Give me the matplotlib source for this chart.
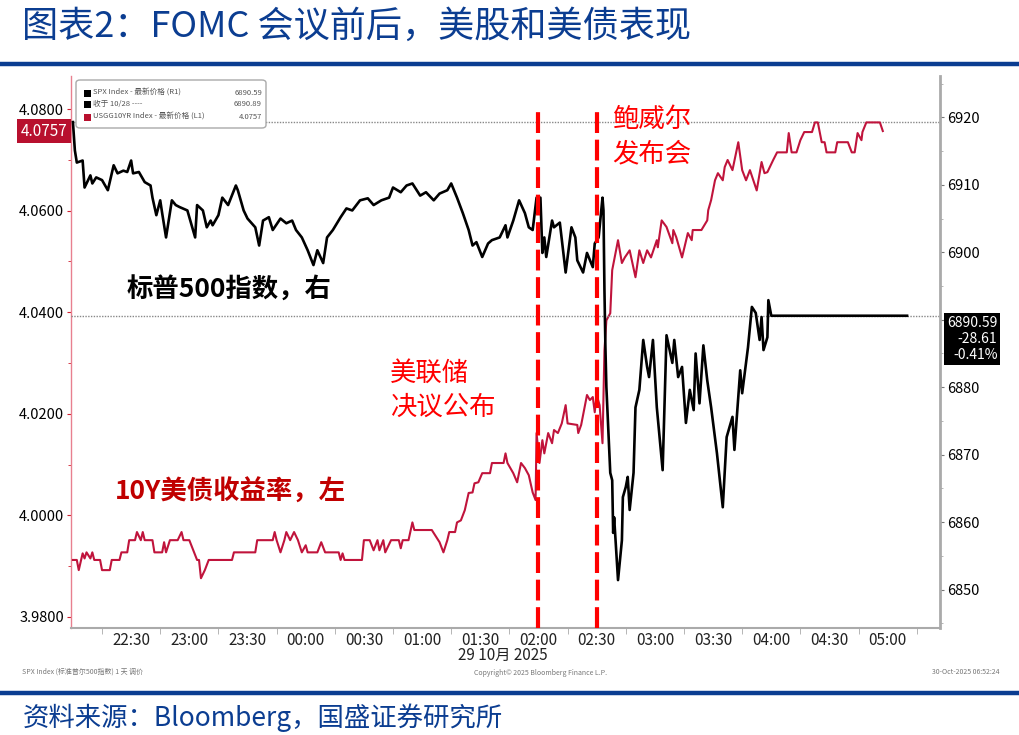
import matplotlib.pyplot as plt
import matplotlib.transforms as mtransforms
from matplotlib.patches import FancyBboxPatch, Rectangle
from matplotlib.lines import Line2D
from matplotlib.ticker import MultipleLocator, FixedLocator

plt.rcParams['font.family'] = ['Noto Sans CJK SC', 'DejaVu Sans']

# minutes after 22:00 (Beijing time, 28 -> 29 Oct 2025)
spx_min = [0, 1, 2, 5, 6, 9, 10, 12, 15, 18, 21, 23, 26, 28, 30, 31, 34, 37, 40, 41,
           43, 45, 46, 48, 51, 53, 55, 59, 63, 64, 67, 69, 71, 72, 75, 77, 80, 84, 85, 88,
           90, 94, 96, 98, 101, 103, 107, 110, 113, 115, 118, 121, 124, 126, 129, 131, 134, 138, 141, 144,
           148, 152, 155, 159, 163, 165, 169, 172, 175, 179, 182, 186, 189, 193, 195, 198, 201, 204, 206, 208,
           211, 214, 216, 220, 223, 224, 227, 230, 233, 235, 237, 239, 241, 242, 243, 244, 247, 248, 251, 254,
           257, 259, 260, 263, 265, 268, 269, 271, 273, 273.5, 274, 274.5, 275, 277, 278, 278.5, 279, 281, 283, 283.5,
           285, 286, 287, 289, 290, 292, 294, 296, 297, 299, 301, 304, 306, 309, 310, 312, 314, 316, 318, 320,
           321, 323, 325, 327, 329, 332, 335, 337, 340, 341, 344, 345, 348, 350, 352, 354, 355, 356, 358, 358.5,
           360, 430]
spx_val = [6919.3, 6915.1, 6913.3, 6913.6, 6909.6, 6911.4, 6910.2, 6911.1, 6910.7, 6909.2,
           6912.9, 6911.7, 6912.1, 6911.9, 6913.6, 6911.7, 6911.9, 6910.4, 6909.9, 6908.1,
           6905.5, 6907.7, 6905.8, 6902.2, 6907.7, 6907.0, 6906.7, 6906.2, 6902.2, 6907.0,
           6906.2, 6903.7, 6904.7, 6904.0, 6905.5, 6908.1, 6907.0, 6909.9, 6909.2, 6906.2,
           6905.0, 6903.7, 6901.0, 6904.7, 6905.2, 6903.3, 6905.0, 6904.3, 6904.7, 6903.3,
           6902.2, 6900.3, 6898.1, 6900.3, 6898.4, 6902.2, 6903.3, 6905.2, 6906.5, 6906.2,
           6907.7, 6908.0, 6907.0, 6907.7, 6908.1, 6909.6, 6908.9, 6909.9, 6910.2, 6908.4,
           6908.9, 6907.7, 6908.7, 6909.2, 6910.2, 6908.1, 6905.8, 6903.3, 6901.0, 6901.5,
           6899.3, 6901.3, 6901.8, 6902.2, 6904.0, 6902.2, 6904.7, 6907.7, 6905.8, 6903.7,
           6903.3, 6908.1, 6908.1, 6899.9, 6902.2, 6899.3, 6904.7, 6903.7, 6904.4, 6897.0,
           6903.7, 6902.2, 6898.8, 6897.0, 6899.9, 6897.8, 6901.3, 6902.2, 6908.1, 6906.2,
           6894.4, 6885.9, 6880.0, 6867.3, 6866.2, 6858.4, 6860.7, 6851.4, 6857.3, 6863.7,
           6865.2, 6866.7, 6861.8, 6867.3, 6877.0, 6879.6, 6887.0, 6883.0, 6881.5, 6887.0,
           6877.0, 6867.7, 6887.7, 6883.6, 6887.0, 6881.5, 6883.0, 6874.7, 6879.6, 6876.6,
           6885.0, 6877.6, 6886.2, 6881.0, 6877.0, 6870.2, 6862.2, 6872.6, 6875.6, 6870.7,
           6882.5, 6879.1, 6885.9, 6891.9, 6891.0, 6887.0, 6890.4, 6885.5, 6887.4, 6892.9,
           6890.59, 6890.59]

ust_min = [0, 2, 3, 5, 6, 7, 9, 10, 11, 14, 15, 19, 20, 24, 25, 28, 29, 32, 33, 35,
           36, 37, 41, 42, 46, 47, 48, 50, 54, 56, 57, 60, 64, 65, 66, 68, 70, 82, 83, 94,
           95, 103, 104, 105, 107, 109, 110, 112, 114, 116, 118, 120, 121, 126, 128, 130, 137, 138, 139, 140,
           149, 150, 153, 155, 157, 158, 160, 161, 164, 168, 169, 170, 173, 175, 176, 185, 189, 191, 193, 194,
           197, 198, 200, 202, 204, 206, 207, 209, 211, 215, 216, 222, 223, 224, 227, 229, 231, 233, 235, 237,
           238.5, 239, 240.5, 242, 243, 245, 247, 248, 250, 252, 254, 255, 260, 260.5, 262, 265, 266.5, 268, 269, 270,
           271.5, 273, 274, 275, 277, 278, 281, 283, 284.5, 287, 290, 292, 294, 296, 298, 301, 301.5, 303.5, 306, 309,
           309.5, 311, 314, 317, 319, 319.5, 324, 327, 327.5, 329, 331, 332.5, 335, 336, 337.5, 340, 343, 345, 347, 349,
           352.5, 355, 356.5, 358, 361, 363, 368, 369, 370.5, 373, 375, 377, 381, 382.5, 384, 386, 387.5, 388.5, 393, 394,
           399.5, 401.5, 403, 404.5, 406.5, 407, 409, 416, 417.5]
ust_val = [3.9912, 3.9912, 3.9892, 3.9925, 3.9915, 3.9927, 3.9915, 3.9927, 3.9912, 3.9912,
           3.9892, 3.9892, 3.9912, 3.9912, 3.9927, 3.9927, 3.9951, 3.9951, 3.9967, 3.9951,
           3.9967, 3.9951, 3.9951, 3.9927, 3.9927, 3.9947, 3.9927, 3.9951, 3.9951, 3.9967,
           3.9951, 3.9951, 3.9912, 3.9912, 3.9876, 3.9892, 3.9912, 3.9912, 3.9927, 3.9927,
           3.9951, 3.9951, 3.9967, 3.9951, 3.9927, 3.9951, 3.9967, 3.9951, 3.9967, 3.9951,
           3.9927, 3.9941, 3.9927, 3.9927, 3.9947, 3.9927, 3.9927, 3.9912, 3.9925, 3.9912,
           3.9912, 3.9951, 3.9951, 3.9931, 3.9951, 3.9931, 3.9951, 3.9927, 3.9951, 3.9951,
           3.9935, 3.9951, 3.9951, 3.9986, 3.9971, 3.9971, 3.9947, 3.9927, 3.9951, 3.9967,
           3.9967, 3.9986, 3.9990, 4.0010, 4.0044, 4.0045, 4.0063, 4.0065, 4.0083, 4.0083,
           4.0103, 4.0103, 4.0122, 4.0103, 4.0083, 4.0065, 4.0103, 4.0093, 4.0079, 4.0045,
           4.0030, 4.0162, 4.0103, 4.0148, 4.0122, 4.0162, 4.0142, 4.0168, 4.0162, 4.0181,
           4.0217, 4.0181, 4.0178, 4.0162, 4.0178, 4.0237, 4.0227, 4.0233, 4.0203, 4.0237,
           4.0217, 4.0142, 4.0325, 4.0384, 4.0398, 4.0483, 4.0542, 4.0497, 4.0508, 4.0522,
           4.0469, 4.0522, 4.0497, 4.0522, 4.0508, 4.0542, 4.0528, 4.0581, 4.0568, 4.0536,
           4.0562, 4.0548, 4.0508, 4.0556, 4.0542, 4.0562, 4.0562, 4.0581, 4.0601, 4.0621,
           4.0660, 4.0674, 4.0660, 4.0686, 4.0700, 4.0680, 4.0735, 4.0680, 4.0660, 4.0680,
           4.0640, 4.0696, 4.0674, 4.0676, 4.0700, 4.0715, 4.0715, 4.0753, 4.0715, 4.0715,
           4.0739, 4.0755, 4.0755, 4.0774, 4.0774, 4.0735, 4.0735, 4.0715, 4.0715, 4.0735,
           4.0735, 4.0715, 4.0715, 4.0753, 4.0739, 4.0755, 4.0774, 4.0774, 4.0757]

tick_min = [30, 60, 90, 120, 150, 180, 210, 240, 270, 300, 330, 360, 390, 420]
tick_lab = ['22:30', '23:00', '23:30', '00:00', '00:30', '01:00', '01:30',
            '02:00', '02:30', '03:00', '03:30', '04:00', '04:30', '05:00']
event_min = [240, 270]
spx_last = 6890.59
ust_last = 4.0757
ust_ref = 4.0775

blue = '#0B3D91'
red_line = '#C0143C'

fig = plt.figure(figsize=(10.2, 7.35), dpi=100)
fig.patch.set_facecolor('white')

# title and rules
fig.text(0.022, 0.963, '图表2：FOMC 会议前后，美股和美债表现', fontsize=26, color=blue,
         style='italic', ha='left', va='center')
fig.add_artist(Line2D([0, 1], [0.913, 0.913], color=blue, lw=3.2, transform=fig.transFigure))
fig.add_artist(Line2D([0, 1], [0.057, 0.057], color=blue, lw=3.2, transform=fig.transFigure))
fig.text(0.022, 0.023, '资料来源：Bloomberg，国盛证券研究所', fontsize=19, color=blue,
         style='italic', ha='left', va='center')

ax = fig.add_axes([0.0696, 0.1456, 0.852, 0.7507])
ax2 = ax.twinx()

ax.plot(ust_min, ust_val, color=red_line, lw=1.5, zorder=3)
ax2.plot(spx_min, spx_val, color='black', lw=1.9, zorder=3)

ax.set_xlim(-1, 447)
ax.set_ylim(3.9778, 4.0865)
ax2.set_ylim(6844.3, 6926.1)

ax.axhline(ust_ref, color='#888888', lw=1, ls=(0, (1, 1)), zorder=1)
ax2.axhline(spx_last, color='#888888', lw=1, ls=(0, (1, 1)), zorder=1)
for m in event_min:
    ax2.axvline(m, ymin=0.0, ymax=0.938, color='#FF0000', lw=3, ls=(0, (5, 1.6)), zorder=4)

# axes styling
for a in (ax, ax2):
    a.spines['top'].set_visible(False)
ax.spines['left'].set_color('#E8808F')
ax.spines['left'].set_linewidth(1.0)
ax.spines['bottom'].set_color('#AAAAAA')
ax.spines['bottom'].set_linewidth(1.5)
ax2.spines['right'].set_color('#AAAAAA')
ax2.spines['right'].set_linewidth(2.0)
ax2.spines['left'].set_visible(False)
ax2.spines['bottom'].set_visible(False)
ax.spines['right'].set_visible(False)

ax.yaxis.set_major_locator(MultipleLocator(0.02))
ax.yaxis.set_minor_locator(MultipleLocator(0.01))
ax.yaxis.set_major_formatter(lambda v, p: f'{v:.4f}')
ax.tick_params(axis='y', which='major', length=3, color='#D02030', labelsize=10.5, pad=2)
ax.tick_params(axis='y', which='minor', length=2, color='#D02030')

ax2.yaxis.set_major_locator(MultipleLocator(10))
ax2.yaxis.set_minor_locator(MultipleLocator(5))
# the 6890 label sits under the last-price flag
ax2.yaxis.set_major_formatter(lambda v, p: '' if abs(v - 6890) < 1 else f'{v:.0f}')
ax2.tick_params(axis='y', which='major', length=3, color='#777777', labelsize=10.5, pad=2)
ax2.tick_params(axis='y', which='minor', length=2, color='#AAAAAA')

ax.xaxis.set_major_locator(FixedLocator(tick_min))
ax.set_xticklabels(tick_lab)
ax.xaxis.set_minor_locator(FixedLocator([m - 15 for m in tick_min] + [435]))
ax.tick_params(axis='x', which='major', length=0, labelsize=11, pad=3, labelcolor='#222222')
ax.tick_params(axis='x', which='minor', length=4, color='#AAAAAA')
ax.set_xlabel('29 10月 2025', fontsize=11, color='#222222', labelpad=-2)
ax.xaxis.set_label_coords(0.497, -0.035)

# last-value flags
ax.text(-0.004, ust_last, f'{ust_last:.4f}', transform=mtransforms.blended_transform_factory(ax.transAxes, ax.transData),
        ha='right', va='center', fontsize=11, color='white',
        bbox=dict(boxstyle='square,pad=0.25', fc='#B8102E', ec='none'))
ax2.text(1.066, spx_last, f'{spx_last:.2f}\n-28.61\n-0.41%',
         transform=mtransforms.blended_transform_factory(ax2.transAxes, ax2.transData),
         ha='right', va='top', fontsize=10, color='white', linespacing=1.2,
         bbox=dict(boxstyle='square,pad=0.2', fc='black', ec='none'))

# annotations
fig.text(127 / 1020, 1 - 290 / 735, '标普500指数，右', fontsize=19, fontweight='bold', color='black', va='center')
fig.text(115 / 1020, 1 - 492 / 735, '10Y美债收益率，左', fontsize=19, fontweight='bold', color='#C00000', va='center')
fig.text(390 / 1020, 1 - 390 / 735, '美联储\n决议公布', fontsize=19, color='#FF0000', va='center', linespacing=1.35)
fig.text(612 / 1020, 1 - 137 / 735, '鲍威尔\n发布会', fontsize=19, color='#FF0000', va='center', linespacing=1.35)

# legend box (Bloomberg style)
fig.add_artist(FancyBboxPatch((76 / 1020, 1 - 128 / 735), 190 / 1020, 48 / 735,
                              boxstyle='round,pad=0,rounding_size=0.004', fc='white', ec='#AAAAAA', lw=1,
                              transform=fig.transFigure, zorder=5))
rows = [('SPX Index - 最新价格 (R1)', '6890.59', 'black', 93),
        ('收于 10/28 ----', '6890.89', 'black', 104),
        ('USGG10YR Index - 最新价格 (L1)', '4.0757', '#B8102E', 117)]
for label, val, col, ypx in rows:
    fig.add_artist(Rectangle((84 / 1020, 1 - (ypx + 3.5) / 735), 7 / 1020, 7 / 735, fc=col, ec='none',
                             transform=fig.transFigure, zorder=6))
    fig.text(93 / 1020, 1 - ypx / 735, label, fontsize=5.5, color='#555555', va='center', zorder=6)
    fig.text(262 / 1020, 1 - ypx / 735, val, fontsize=5.5, color='#555555', va='center', ha='right', zorder=6)

# Bloomberg footer
fig.text(22 / 1020, 1 - 672 / 735, 'SPX Index (标准普尔500指数) 1 天 调价', fontsize=5, color='#777777', va='center')
fig.text(540 / 1020, 1 - 673 / 735, 'Copyright© 2025 Bloomberg Finance L.P.', fontsize=5, color='#777777',
         va='center', ha='center')
fig.text(1000 / 1020, 1 - 672 / 735, '30-Oct-2025 06:52:24', fontsize=5, color='#777777', va='center', ha='right')

fig.savefig('out.png', dpi=100)
